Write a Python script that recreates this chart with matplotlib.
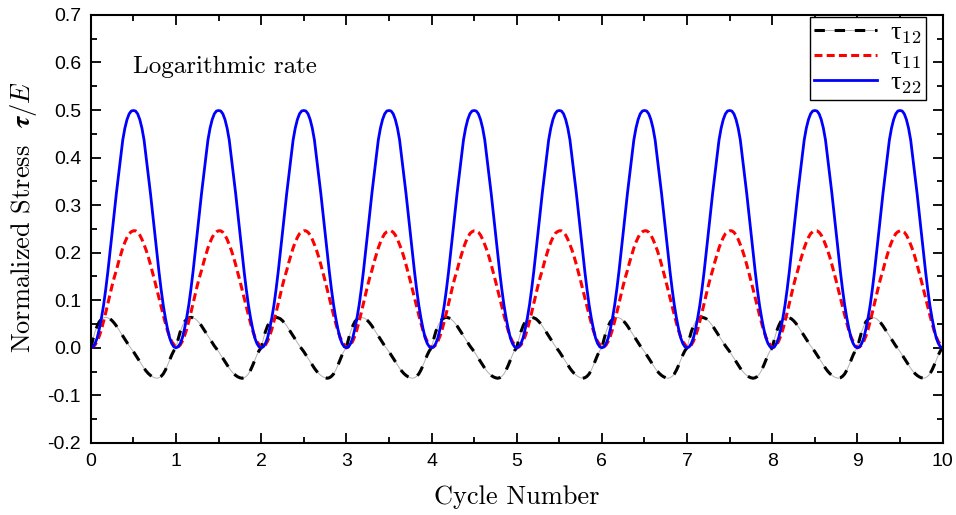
import numpy as np
import matplotlib as mpl
mpl.use("Agg")
import matplotlib.pyplot as plt
from matplotlib.ticker import MultipleLocator, FormatStrFormatter
from matplotlib.legend_handler import HandlerTuple

# one loading cycle at steps of 0.025 cycle (the curves repeat every cycle)
cycle_phase = np.arange(0, 1.0, 0.025)
n_cycles = 10
tau12_cycle = [0.0, 0.018, 0.034, 0.046, 0.055, 0.060, 0.063, 0.064, 0.063, 0.061,
               0.057, 0.052, 0.046, 0.039, 0.032, 0.025, 0.018, 0.011, 0.004, -0.002,
               -0.008, -0.015, -0.022, -0.029, -0.036, -0.043, -0.049, -0.054, -0.058, -0.061,
               -0.063, -0.064, -0.063, -0.060, -0.055, -0.047, -0.037, -0.026, -0.015, -0.006]
tau11_cycle = [0.0, 0.002, 0.006, 0.014, 0.025, 0.039, 0.056, 0.074, 0.093, 0.112,
               0.131, 0.148, 0.163, 0.180, 0.195, 0.210, 0.222, 0.232, 0.240, 0.244,
               0.246, 0.246, 0.243, 0.237, 0.228, 0.217, 0.205, 0.191, 0.175, 0.158,
               0.141, 0.123, 0.105, 0.087, 0.069, 0.052, 0.036, 0.023, 0.013, 0.007]
tau22_cycle = [0.0, 0.002, 0.009, 0.021, 0.040, 0.063, 0.090, 0.123, 0.160, 0.200,
               0.242, 0.284, 0.325, 0.363, 0.400, 0.437, 0.462, 0.480, 0.492, 0.498,
               0.499, 0.498, 0.492, 0.480, 0.462, 0.437, 0.400, 0.363, 0.325, 0.284,
               0.242, 0.200, 0.160, 0.123, 0.090, 0.063, 0.040, 0.021, 0.009, 0.002]

x = np.concatenate([k + cycle_phase for k in range(n_cycles)] + [[n_cycles]])
tau12 = np.append(np.tile(tau12_cycle, n_cycles), 0.0)
tau11 = np.append(np.tile(tau11_cycle, n_cycles), 0.0)
tau22 = np.append(np.tile(tau22_cycle, n_cycles), 0.0)

plt.rcParams["mathtext.fontset"] = "cm"
plt.rcParams["axes.unicode_minus"] = False
serif = "cmr10"

fig = plt.figure(figsize=(9.56, 5.15), dpi=100)
ax = fig.add_axes([0.095, 0.140, 0.891, 0.831])

# tau12: thin grey line with thick black dashes on top (dash-dot look)
g12, = ax.plot(x, tau12, color="#b0b0b0", lw=0.7)
b12, = ax.plot(x, tau12, color="black", lw=2.2, dashes=(3.4, 3.2))
r11, = ax.plot(x, tau11, color="#ff0000", lw=2.2, dashes=(2.6, 1.4))
b22, = ax.plot(x, tau22, color="#0000ff", lw=2.0)

ax.set_xlim(0, 10)
ax.set_ylim(-0.2, 0.7)
ax.xaxis.set_major_locator(MultipleLocator(1))
ax.xaxis.set_minor_locator(MultipleLocator(0.5))
ax.yaxis.set_major_locator(MultipleLocator(0.1))
ax.yaxis.set_minor_locator(MultipleLocator(0.05))
ax.yaxis.set_major_formatter(FormatStrFormatter("%.1f"))
ax.tick_params(which="both", direction="in", top=True, right=True, width=1.3)
ax.tick_params(which="major", length=7, labelsize=14, pad=7)
ax.tick_params(which="minor", length=4)
for lab in ax.get_xticklabels() + ax.get_yticklabels():
    lab.set_fontfamily("Liberation Sans")
for sp in ax.spines.values():
    sp.set_linewidth(1.5)

ax.set_xlabel("Cycle Number", fontsize=19, family=serif, labelpad=11)
ax.set_ylabel(r"Normalized Stress  $\boldsymbol{\tau}/E$", fontsize=19, family=serif)
ax.yaxis.set_label_coords(-0.061, 0.528)
ax.text(0.049, 0.879, "Logarithmic rate", transform=ax.transAxes, fontsize=18,
        family=serif, va="center")

leg = ax.legend([(g12, b12), r11, b22],
                [r"τ$_{12}$", r"τ$_{11}$", r"τ$_{22}$"],
                handler_map={tuple: HandlerTuple(ndivide=1)},
                loc="upper right", bbox_to_anchor=(0.980, 0.995),
                prop={"family": "Liberation Serif", "size": 19},
                fancybox=False, edgecolor="black", framealpha=1,
                handlelength=2.4, borderpad=0.15, labelspacing=0.0,
                handletextpad=0.5, borderaxespad=0.0)
leg.get_frame().set_linewidth(1.0)

fig.savefig("out.png", dpi=100)
